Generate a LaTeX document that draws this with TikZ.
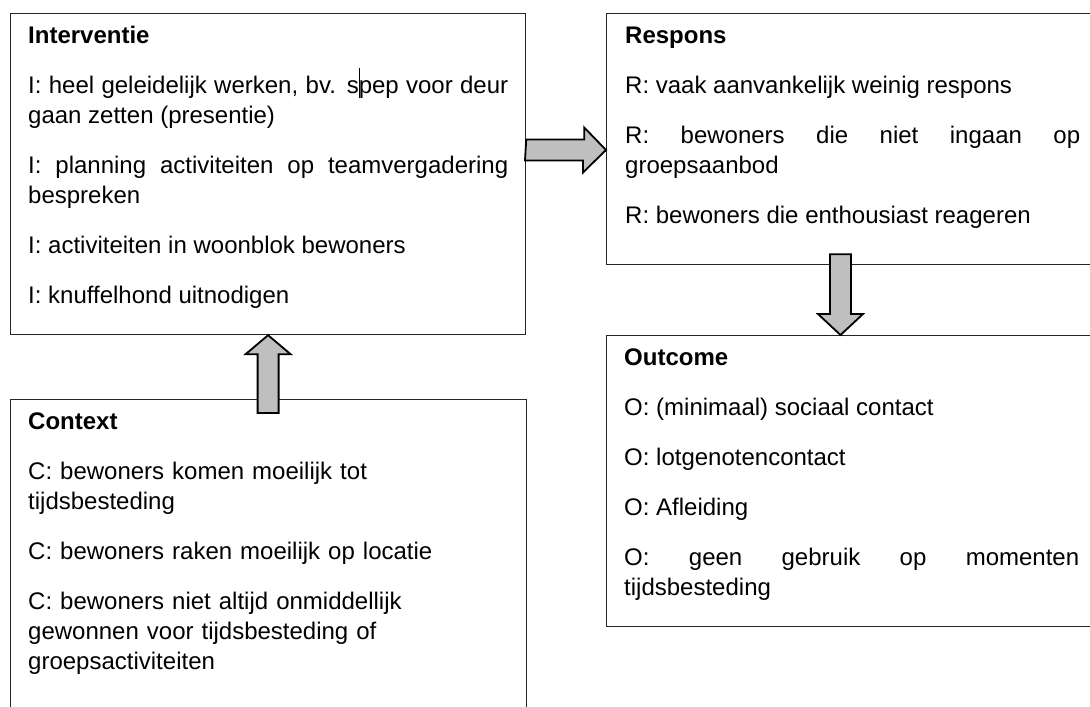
\documentclass[tikz,border=0pt]{standalone}
\usepackage{fontspec}
\setmainfont{Liberation Sans}
\usetikzlibrary{calc}

% Panels, their text blocks and the thick block arrows between them
\tikzset{
  panel/.style={draw=black!85, line width=1.2pt, fill=white, inner sep=0pt, anchor=north west},
  paneltext/.style={anchor=north west, inner sep=0pt, text=black,
    font=\fontsize{24pt}{30pt}\selectfont,
    execute at begin node={\parindent=0pt\parskip=20pt\tolerance=10000\emergencystretch=0pt}},
  blockarrow/.style={draw=black, fill=black!25, line width=1.8pt, line join=miter},
}

% Bold heading, with a strut so the first baseline sits 20pt below the node top
\newcommand\paneltitle[1]{\rule{0pt}{20pt}\textbf{#1}}
% Thin text-cursor bar that takes no room
\newcommand\caretmark{\rlap{\smash{\rule[-5pt]{0.8pt}{30pt}}}}

\begin{document}
\begin{tikzpicture}[x=1pt,y=-1pt]
\useasboundingbox (0,0) rectangle (1090,707);
\clip (0,0) rectangle (1090,707);

% the four panels
\node[panel, minimum width=515pt, minimum height=321pt] (I) at (10,13) {};
\node[panel, minimum width=491pt, minimum height=251pt] (R) at (606,13) {};
\node[panel, minimum width=491pt, minimum height=291pt] (O) at (606,335) {};
\node[panel, minimum width=516pt, minimum height=321pt] (C) at (10,399) {};

% panel contents
\node[paneltext, text width=480pt, align=justify] (Itext) at ($(I.north west)+(18,10)$) {%
\paneltitle{Interventie}\par
I: heel geleidelijk werken, bv. s\caretmark pep voor deur\linebreak gaan zetten (presentie)\par
I: planning activiteiten op teamvergadering\linebreak bespreken\par
I: activiteiten in woonblok bewoners\par
I: knuffelhond uitnodigen};

\node[paneltext, text width=455pt, align=justify] (Rtext) at ($(R.north west)+(19,10)$) {%
\paneltitle{Respons}\par
R: vaak aanvankelijk weinig respons\par
R: bewoners die niet ingaan op\linebreak groepsaanbod\par
R: bewoners die enthousiast reageren};

\node[paneltext, text width=455pt, align=justify] (Otext) at ($(O.north west)+(18,10)$) {%
\paneltitle{Outcome}\par
O: (minimaal) sociaal contact\par
O: lotgenotencontact\par
O: Afleiding\par
O: geen gebruik op momenten\linebreak tijdsbesteding};

\node[paneltext, text width=480pt, align=left] (Ctext) at ($(C.north west)+(18,10)$) {%
\paneltitle{Context}\par
C: bewoners komen moeilijk tot\newline tijdsbesteding\par
C: bewoners raken moeilijk op locatie\par
C: bewoners niet altijd onmiddellijk\newline gewonnen voor tijdsbesteding of\newline groepsactiviteiten};

% helper positions for the arrow axes
\coordinate (ry) at (0,150);
\coordinate (dx) at (840.5,0);

% Interventie -> Respons
\draw[blockarrow] ($(I.east |- ry)+(0,-10.5)$) -- ++(58,0) -- ++(0,-12)
  -- (R.west |- ry) -- ++(-23,22.5) -- ++(0,-12) -- ++(-58,0) -- cycle;

% Context -> Interventie
\draw[blockarrow] (I.south) -- ++(22.5,19) -- ++(-12,0)
  -- ($(I.south |- C.north)+(10.5,14)$) -- ++(-21,0)
  -- ($(I.south)+(-10.5,19)$) -- ++(-12,0) -- cycle;

% Respons -> Outcome
\draw[blockarrow] (dx |- O.north) -- ++(22.5,-21) -- ++(-12,0)
  -- ($(dx |- R.south)+(10.5,-11)$) -- ++(-21,0)
  -- ($(dx |- O.north)+(-10.5,-21)$) -- ++(-12,0) -- cycle;
\end{tikzpicture}
\end{document}
